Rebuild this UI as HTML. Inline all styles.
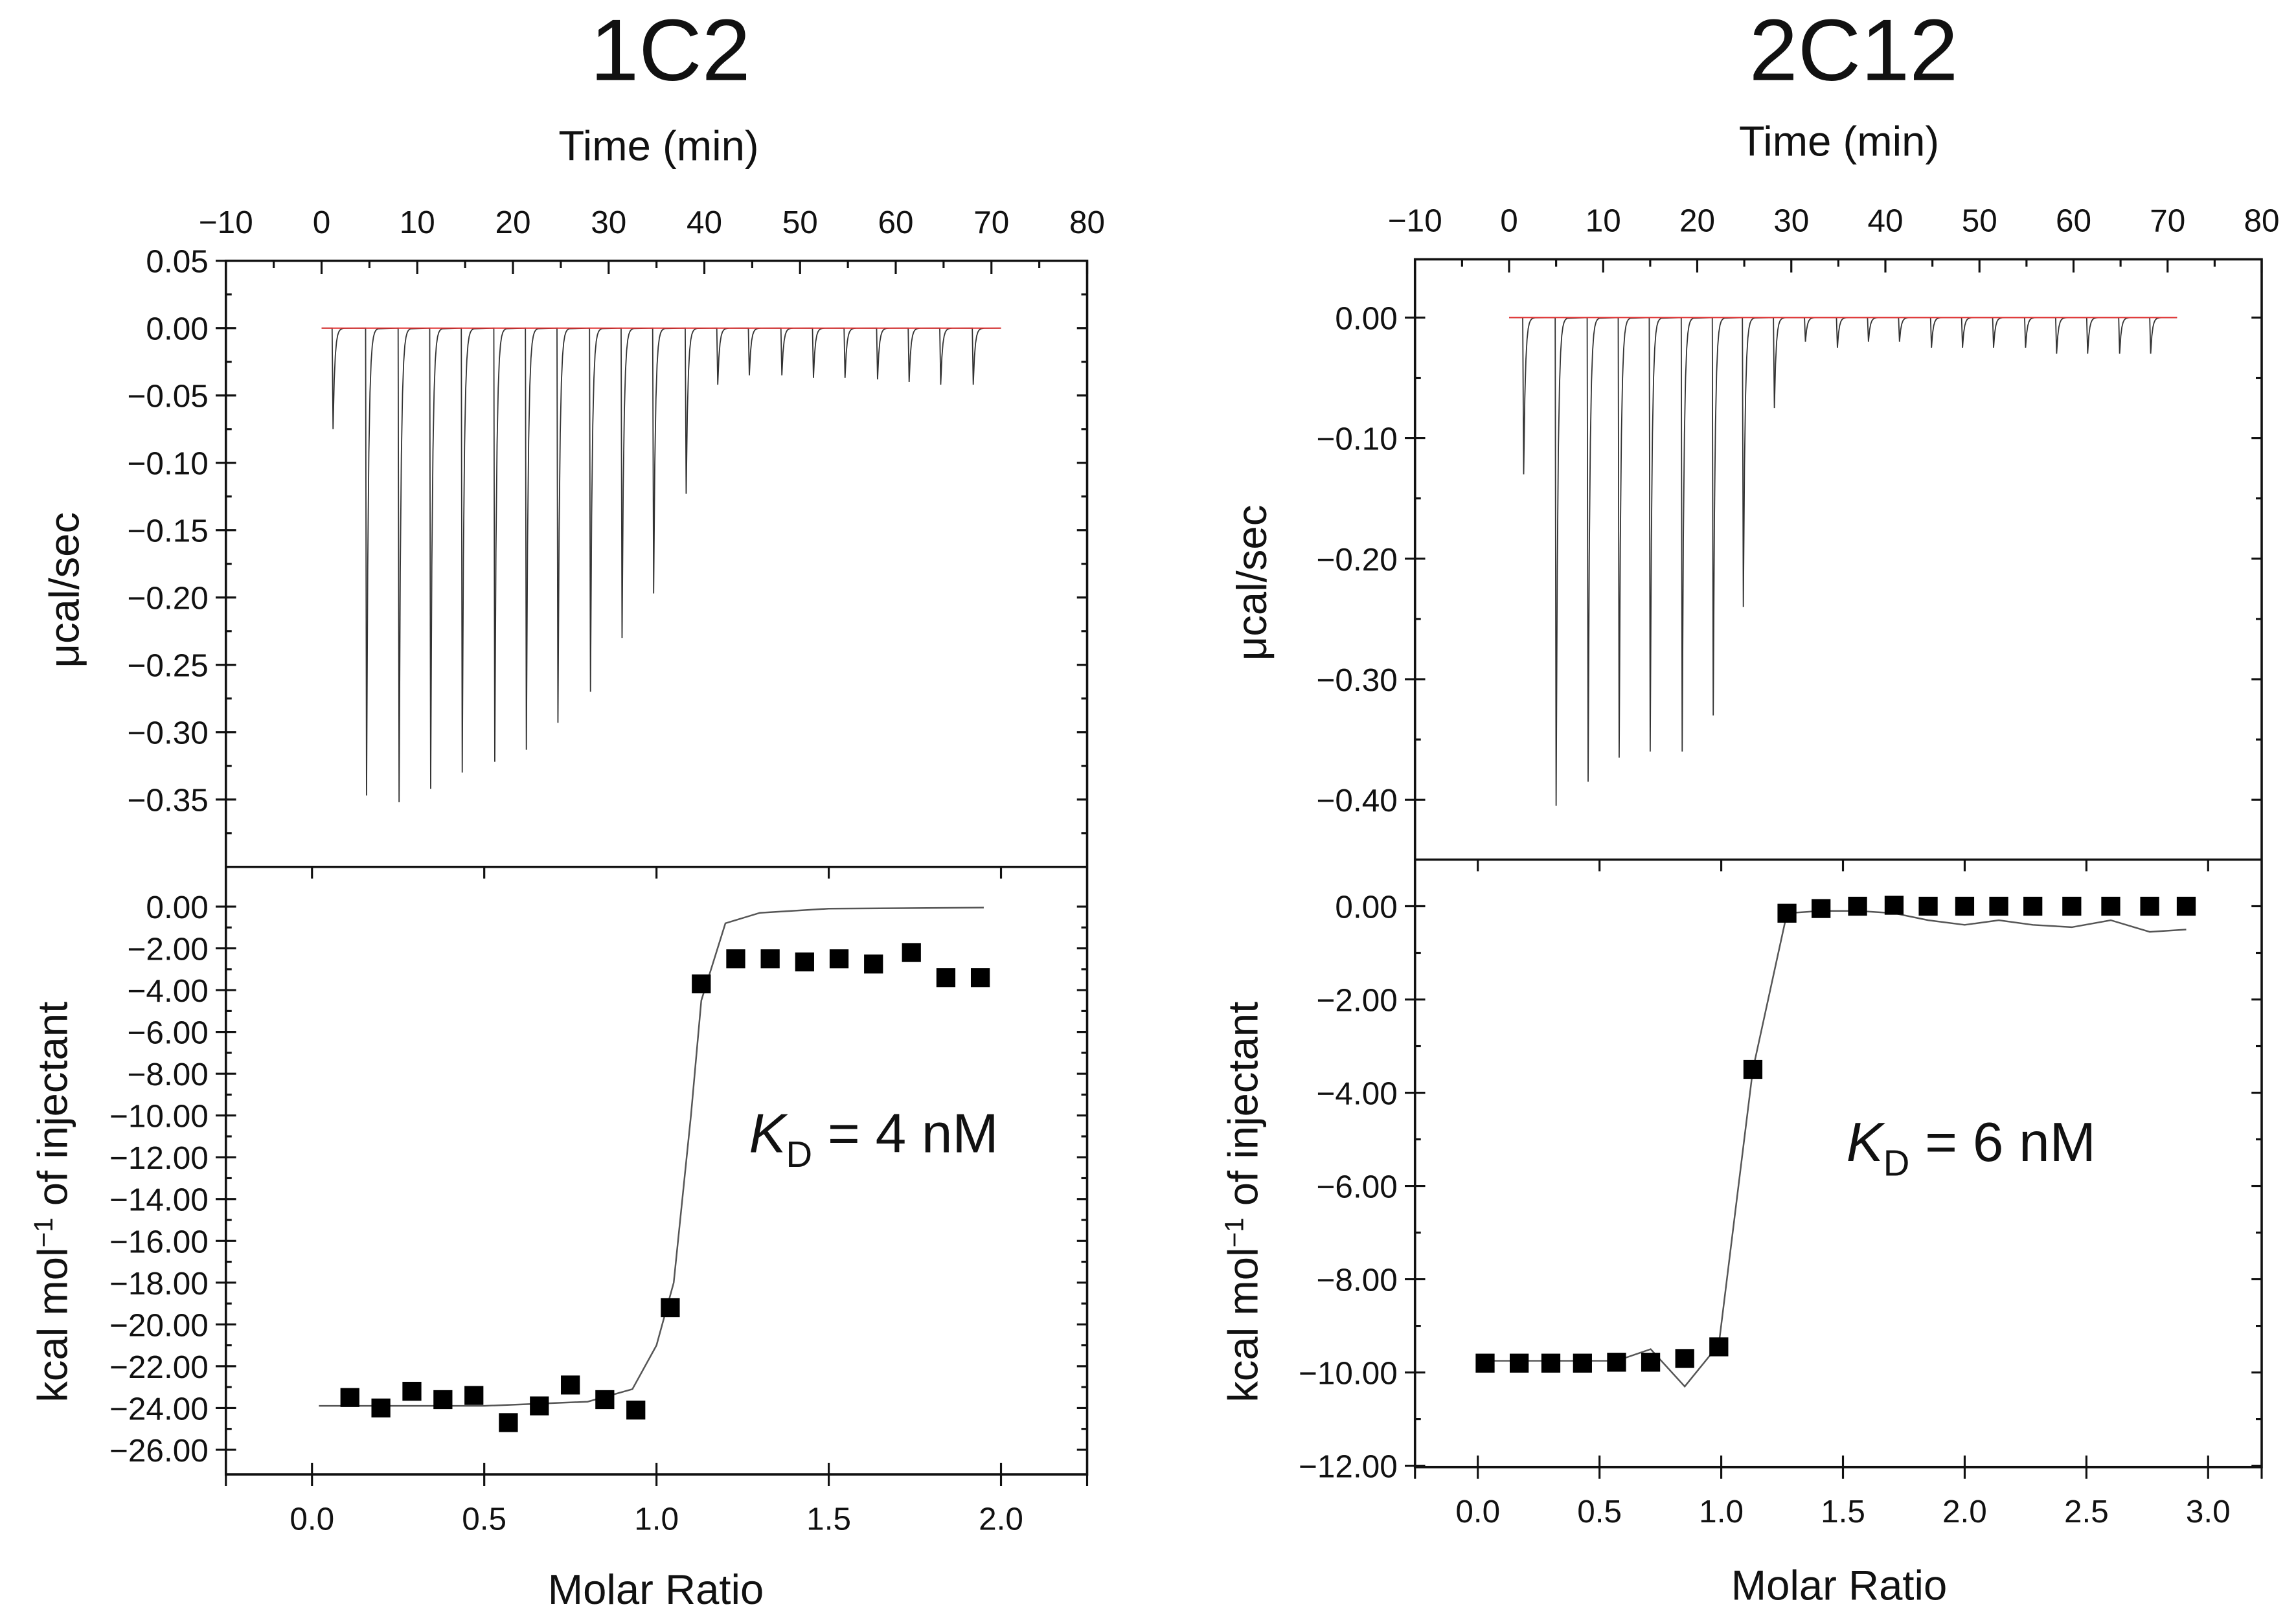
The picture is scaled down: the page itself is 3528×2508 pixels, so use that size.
<!DOCTYPE html>
<html><head><meta charset="utf-8"><style>
html,body{margin:0;padding:0;background:#fff}
svg{display:block}
text{font-family:"Liberation Sans",sans-serif;fill:#111}
</style></head><body>
<svg id="fig" width="3528" height="2508" viewBox="0 0 1568 1114.67" xmlns="http://www.w3.org/2000/svg">
<text x="460" y="55" font-size="60" text-anchor="middle">1C2</text>
<text x="1272" y="55" font-size="60" text-anchor="middle">2C12</text>
<text x="452" y="110" font-size="29" text-anchor="middle">Time (min)</text>
<text x="1262" y="107" font-size="29" text-anchor="middle">Time (min)</text>
<text x="1262" y="1098" font-size="29" text-anchor="middle">Molar Ratio</text>
<text x="450" y="1101" font-size="29" text-anchor="middle">Molar Ratio</text>
<text transform="translate(54,405) rotate(-90)" font-size="29" text-anchor="middle">μcal/sec</text>
<text transform="translate(869,400) rotate(-90)" font-size="29" text-anchor="middle">μcal/sec</text>
<text transform="translate(46,825) rotate(-90)" font-size="29" text-anchor="middle">kcal mol<tspan dy="-10" font-size="18">−1</tspan><tspan dy="10"> of injectant</tspan></text>
<text transform="translate(863,825) rotate(-90)" font-size="29" text-anchor="middle">kcal mol<tspan dy="-10" font-size="18">−1</tspan><tspan dy="10"> of injectant</tspan></text>
<text x="514" y="791" font-size="38"><tspan font-style="italic">K</tspan><tspan font-size="25" dy="10">D</tspan><tspan dy="-10"> = 4 nM</tspan></text>
<text x="1267" y="797" font-size="38"><tspan font-style="italic">K</tspan><tspan font-size="25" dy="10">D</tspan><tspan dy="-10"> = 6 nM</tspan></text>
</svg>
<script>
// ---- 1C2 data ----
const ratioA = [0.11,0.20,0.29,0.38,0.47,0.57,0.66,0.75,0.85,0.94,1.04,1.13,1.23,1.33,1.43,1.53,1.63,1.74,1.84,1.94];
const heatA = [-23.5,-24.0,-23.2,-23.6,-23.4,-24.7,-23.9,-22.9,-23.6,-24.1,-19.2,-3.7,-2.5,-2.5,-2.65,-2.5,-2.75,-2.2,-3.4,-3.4];
const fitXA = [0.02,0.5,0.8,0.93,1.0,1.05,1.10,1.13,1.2,1.3,1.5,1.95];
const fitYA = [-23.9,-23.9,-23.7,-23.1,-21,-18,-10,-4.5,-0.8,-0.3,-0.1,-0.05];
const peakTA = [1.1,4.6,8.0,11.3,14.6,18.0,21.3,24.6,28.0,31.3,34.6,38.0,41.3,44.6,48.0,51.3,54.6,58.0,61.3,64.6,68.0];
const peakDA = [-0.075,-0.347,-0.352,-0.342,-0.33,-0.322,-0.313,-0.293,-0.27,-0.23,-0.197,-0.123,-0.042,-0.035,-0.035,-0.037,-0.037,-0.038,-0.04,-0.042,-0.042];
const topTicksA = [0.05,0.00,-0.05,-0.10,-0.15,-0.20,-0.25,-0.30,-0.35];
const botTicksA = [0,-2,-4,-6,-8,-10,-12,-14,-16,-18,-20,-22,-24,-26];
const ratioTicksA = [0.0,0.5,1.0,1.5,2.0];
// ---- 2C12 data ----
const ratioB = [0.03,0.17,0.30,0.43,0.57,0.71,0.85,0.99,1.13,1.27,1.41,1.56,1.71,1.85,2.00,2.14,2.28,2.44,2.60,2.76,2.91];
const heatB = [-9.8,-9.8,-9.8,-9.8,-9.78,-9.78,-9.7,-9.45,-3.5,-0.15,-0.05,0,0.02,0,0,0,0,0,0,0,0];
const fitXB = [0.03,0.57,0.71,0.85,0.99,1.13,1.27,1.41,1.56,1.71,1.85,2.00,2.14,2.28,2.44,2.60,2.76,2.91];
const fitYB = [-9.75,-9.75,-9.5,-10.3,-9.4,-3.5,-0.15,-0.1,-0.1,-0.15,-0.3,-0.4,-0.3,-0.4,-0.45,-0.3,-0.55,-0.5];
const peakTB = [1.45,4.9,8.3,11.6,14.9,18.3,21.6,24.8,28.1,31.4,34.8,38.1,41.4,44.8,48.1,51.4,54.8,58.1,61.4,64.8,68.1];
const peakDB = [-0.13,-0.405,-0.385,-0.365,-0.36,-0.36,-0.33,-0.24,-0.075,-0.02,-0.025,-0.02,-0.02,-0.025,-0.025,-0.025,-0.025,-0.03,-0.03,-0.03,-0.03];
const topTicksB = [0.00,-0.10,-0.20,-0.30,-0.40];
const botTicksB = [0,-2,-4,-6,-8,-10,-12];
const ratioTicksB = [0.0,0.5,1.0,1.5,2.0,2.5,3.0];
const timeTicks = [-10,0,10,20,30,40,50,60,70,80];

const NS='http://www.w3.org/2000/svg';
const svg=document.getElementById('fig');
function el(tag,attrs,parent){const e=document.createElementNS(NS,tag);for(const k in attrs)e.setAttribute(k,attrs[k]);(parent||svg).appendChild(e);return e;}
function lin(d0,d1,r0,r1){return v=>r0+(v-d0)*(r1-r0)/(d1-d0);}

function panel(o){
  const g=el('g',{});
  
  
  const L=o.L,R=o.R,T=o.T,M=o.M,B=o.B;
  const tx=lin(-10,80,L,R), ty=lin(o.ty0,o.ty1,T,M);
  const mx=lin(o.mx0,o.mx1,L,R), my=lin(o.my0,o.my1,M,B);
  const fr=el('rect',{x:L,y:T,width:R-L,height:B-T,fill:'none',stroke:'#111','stroke-width':1.6},g);
  
  
  const dv=el('line',{x1:L,x2:R,y1:M,y2:M,stroke:'#111','stroke-width':1.6},g);
  
  
  const tk={stroke:'#111','stroke-width':1.4};
  timeTicks.forEach((t,i)=>{
    const x=tx(t);
    el('line',Object.assign({x1:x,x2:x,y1:T,y2:T+9},tk),g);
    if(i<timeTicks.length-1) el('line',Object.assign({x1:tx(t+5),x2:tx(t+5),y1:T,y2:T+5},tk),g);
    const lb=el('text',{x:x,y:T-19,'font-size':22,'text-anchor':'middle'},g);
    lb.textContent=t<0?'\u2212'+Math.abs(t):String(t);
    
    
  });
  o.topTicks.forEach(v=>{
    const y=ty(v);
    el('line',Object.assign({x1:L-7,x2:L+7,y1:y,y2:y},tk),g);
    el('line',Object.assign({x1:R-7,x2:R,y1:y,y2:y},tk),g);
    const ym=ty(v-o.topStep/2);
    if(ym<M-3){el('line',Object.assign({x1:L,x2:L+4,y1:ym,y2:ym},tk),g);el('line',Object.assign({x1:R-4,x2:R,y1:ym,y2:ym},tk),g);}
    const lb=el('text',{x:L-12,y:y+8,'font-size':22,'text-anchor':'end'},g);
    lb.textContent=(v<0?'\u2212':'')+Math.abs(v).toFixed(2);
    
    
  });
  o.botTicks.forEach(v=>{
    const y=my(v);
    el('line',Object.assign({x1:L-7,x2:L+7,y1:y,y2:y},tk),g);
    el('line',Object.assign({x1:R-7,x2:R,y1:y,y2:y},tk),g);
    const ym=my(v-o.botStep/2);
    if(ym<B-3){el('line',Object.assign({x1:L,x2:L+4,y1:ym,y2:ym},tk),g);el('line',Object.assign({x1:R-4,x2:R,y1:ym,y2:ym},tk),g);}
    const lb=el('text',{x:L-12,y:y+8,'font-size':22,'text-anchor':'end'},g);
    lb.textContent=(v<0?'\u2212':'')+Math.abs(v).toFixed(2);
    
    
  });
  o.ratioTicks.forEach(v=>{
    const x=mx(v);
    el('line',Object.assign({x1:x,x2:x,y1:B-8,y2:B+8},tk),g);
    el('line',Object.assign({x1:x,x2:x,y1:M,y2:M+8},tk),g);
    const lb=el('text',{x:x,y:B+38,'font-size':22,'text-anchor':'middle'},g);
    lb.textContent=v.toFixed(1);
    
    
  });
  el('line',Object.assign({x1:L,x2:L,y1:B,y2:B+8},tk),g);
  el('line',Object.assign({x1:R,x2:R,y1:B,y2:B+8},tk),g);
  let d='M'+tx(0)+','+ty(0);
  o.peakT.forEach((t,i)=>{
    d+=' L'+tx(t)+','+ty(0)+' L'+tx(t+0.1)+','+ty(o.peakD[i]);
    for(let k=1;k<=10;k++){const dt=k*0.12;d+=' L'+tx(t+0.1+dt)+','+ty(o.peakD[i]*Math.exp(-dt*5.5));}
  });
  d+=' L'+tx(71)+','+ty(0);
  const th=el('path',{d:d,fill:'none',stroke:'#333','stroke-width':0.8},g);
  
  
  const bl=el('line',{x1:tx(0),x2:tx(71),y1:ty(0),y2:ty(0),stroke:'#e03030','stroke-width':0.9},g);
  
  
  const fit=el('polyline',{points:o.fitX.map((x,i)=>mx(x)+','+my(o.fitY[i])).join(' '),fill:'none',stroke:'#555','stroke-width':1.1},g);
  
  
  o.ratio.forEach((x,i)=>{
    const s=el('rect',{x:mx(x)-6.5,y:my(o.heat[i])-6.5,width:13,height:13,fill:'#000'},g);
    
    
  });
}
panel({id:'1c2',L:155,R:746,T:179,M:595,B:1012,ty0:0.05,ty1:-0.40,my0:1.9,my1:-27.18,mx0:-0.25,mx1:2.25,
  topTicks:topTicksA,topStep:0.05,botTicks:botTicksA,botStep:2,ratioTicks:ratioTicksA,
  ratio:ratioA,heat:heatA,fitX:fitXA,fitY:fitYA,peakT:peakTA,peakD:peakDA});
panel({id:'2c12',L:971,R:1552,T:178,M:590,B:1007,ty0:0.0483,ty1:-0.4496,my0:1.0,my1:-12.03,mx0:-0.258,mx1:3.22,
  topTicks:topTicksB,topStep:0.1,botTicks:botTicksB,botStep:2,ratioTicks:ratioTicksB,
  ratio:ratioB,heat:heatB,fitX:fitXB,fitY:fitYB,peakT:peakTB,peakD:peakDB});
</script>
</body></html>
